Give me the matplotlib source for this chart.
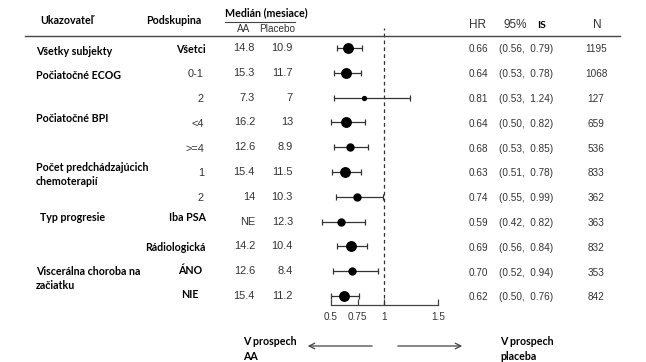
import numpy as np
import matplotlib.pyplot as plt
from matplotlib.lines import Line2D
from matplotlib.patches import FancyArrowPatch
from matplotlib.transforms import blended_transform_factory

# data
subgroups = ['Všetci', '0-1', '2', '<4', '>=4', '1', '2', 'Iba PSA', 'Rádiologická', 'ÁNO', 'NIE']
median_aa = ['14.8', '15.3', '7.3', '16.2', '12.6', '15.4', '14', 'NE', '14.2', '12.6', '15.4']
median_pl = ['10.9', '11.7', '7', '13', '8.9', '11.5', '10.3', '12.3', '10.4', '8.4', '11.2']
hr = [0.66, 0.64, 0.81, 0.64, 0.68, 0.63, 0.74, 0.59, 0.69, 0.70, 0.62]
ci_low = [0.56, 0.53, 0.53, 0.50, 0.53, 0.51, 0.55, 0.42, 0.56, 0.52, 0.50]
ci_high = [0.79, 0.78, 1.24, 0.82, 0.85, 0.78, 0.99, 0.82, 0.84, 0.94, 0.76]
n = [1195, 1068, 127, 659, 536, 833, 362, 363, 832, 353, 842]
categories = ['Všetky subjekty', 'Počiatočné ECOG', 'Počiatočné BPI',
              'Počet predchádzajúcich\nchemoterapií', 'Typ progresie',
              'Viscerálna choroba na\nzačiatku']
category_rows = [0.14, 1.09, 2.84, 5.1, 6.85, 9.3]
bold_subgroups = {'Všetci', 'Iba PSA', 'Rádiologická', 'ÁNO', 'NIE'}
xticks = [0.5, 0.75, 1, 1.5]

W, H = 646, 362
fig = plt.figure(figsize=(W / 100, H / 100), dpi=100)

def fx(px):
    return px / W

def fy(py):
    return 1 - py / H

ax = fig.add_axes([fx(331), fy(305), fx(438) - fx(331), fy(28) - fy(305)])
ax.set_xlim(0.5, 1.5)
ax.set_ylim(10.36, -0.81)
for s in ['top', 'right', 'left']:
    ax.spines[s].set_visible(False)
ax.spines['bottom'].set_color('#444444')
ax.spines['bottom'].set_linewidth(0.9)
ax.set_yticks([])
ax.set_xticks(xticks)
ax.set_xticklabels(['0.5', '0.75', '1', '1.5'], fontsize=7.2, color='#333333',
                   family='Liberation Sans')
ax.tick_params(axis='x', direction='in', length=4, width=0.9, color='#444444', pad=5)
ax.axvline(1, color='#333333', lw=0.9, ls=(0, (3, 2.5)), clip_on=False)

rows = np.arange(len(hr))
hr_a = np.array(hr)
err = [hr_a - np.array(ci_low), np.array(ci_high) - hr_a]
ax.errorbar(hr_a, rows, xerr=err, fmt='none', ecolor='#333333', elinewidth=0.9,
            capsize=2.5, capthick=0.9, clip_on=False)
for i in rows:
    ms = 6.8 if n[i] > 600 else (5 if n[i] > 300 else 2.8)
    ax.plot(hr[i], i, 'o', color='black', ms=ms, clip_on=False)

tr = blended_transform_factory(fig.transFigure, ax.transData)
num_kw = dict(fontsize=7.2, color='#333333', family='Liberation Sans', va='center')
med_kw = dict(num_kw, fontsize=7.9)
lab_kw = dict(fontsize=7.7, color='black', family='Lato', weight='bold', va='center')

for txt, r in zip(categories, category_rows):
    x0 = 40 if txt == 'Typ progresie' else 36
    ax.text(fx(x0), r, txt, transform=tr, linespacing=1.35, **lab_kw)

for i in rows:
    sg = subgroups[i]
    if sg in ('ÁNO', 'NIE'):
        ax.text(fx(190), i - 0.05, sg, transform=tr, ha='center', **lab_kw)
    elif sg in bold_subgroups:
        y = i - 0.15 if sg == 'Iba PSA' else i + 0.05
        ax.text(fx(206), y, sg, transform=tr, ha='right', **lab_kw)
    else:
        ax.text(fx(204), i + 0.05, sg, transform=tr, ha='right', **med_kw)
    ax.text(fx(255), i, median_aa[i], transform=tr, ha='right', **med_kw)
    ax.text(fx(293), i, median_pl[i], transform=tr, ha='right', **med_kw)
    ax.text(fx(478), i + 0.05, f'{hr[i]:.2f}', transform=tr, ha='center', **num_kw)
    ax.text(fx(499), i + 0.05, f'({ci_low[i]:.2f},  {ci_high[i]:.2f})', transform=tr,
            ha='left', **num_kw)
    ax.text(fx(596), i + 0.05, str(n[i]), transform=tr, ha='center', **num_kw)

# header
hkw = dict(fontsize=7.7, color='black', family='Lato', weight='bold', va='center')
fig.text(fx(40), fy(20), 'Ukazovateľ', **hkw)
fig.text(fx(174), fy(20), 'Podskupina', ha='center', **hkw)
fig.text(fx(266), fy(13), 'Medián (mesiace)', ha='center', **hkw)
fig.add_artist(Line2D([fx(225), fx(295)], [fy(22), fy(22)], color='#444444', lw=0.8))
fig.text(fx(244), fy(29), 'AA', ha='center', **num_kw)
fig.text(fx(277), fy(29), 'Placebo', ha='center', **num_kw)
big_kw = dict(fontsize=8.5, color='#333333', family='Liberation Sans', va='center')
fig.text(fx(477), fy(25), 'HR', ha='center', **big_kw)
fig.text(fx(503), fy(25), '95%', ha='left', **big_kw)
fig.text(fx(537), fy(25), 'IS', ha='left', fontsize=7.5, color='black', family='Lato',
         weight='bold', va='center')
fig.text(fx(597), fy(25), 'N', ha='center', **big_kw)
fig.add_artist(Line2D([fx(25), fx(620)], [fy(36), fy(36)], color='#444444', lw=1.0))

# footer
fig.text(fx(243), fy(349), 'V prospech\nAA', ha='left', linespacing=1.4, **hkw)
fig.text(fx(500), fy(349), 'V prospech\nplaceba', ha='left', linespacing=1.4, **hkw)
akw = dict(arrowstyle='->', color='#444444', lw=0.9, mutation_scale=10)
fig.add_artist(FancyArrowPatch((fx(375), fy(346)), (fx(305), fy(346)),
               transform=fig.transFigure, **akw))
fig.add_artist(FancyArrowPatch((fx(395), fy(346)), (fx(465), fy(346)),
               transform=fig.transFigure, **akw))

fig.savefig('out.png', dpi=100)
